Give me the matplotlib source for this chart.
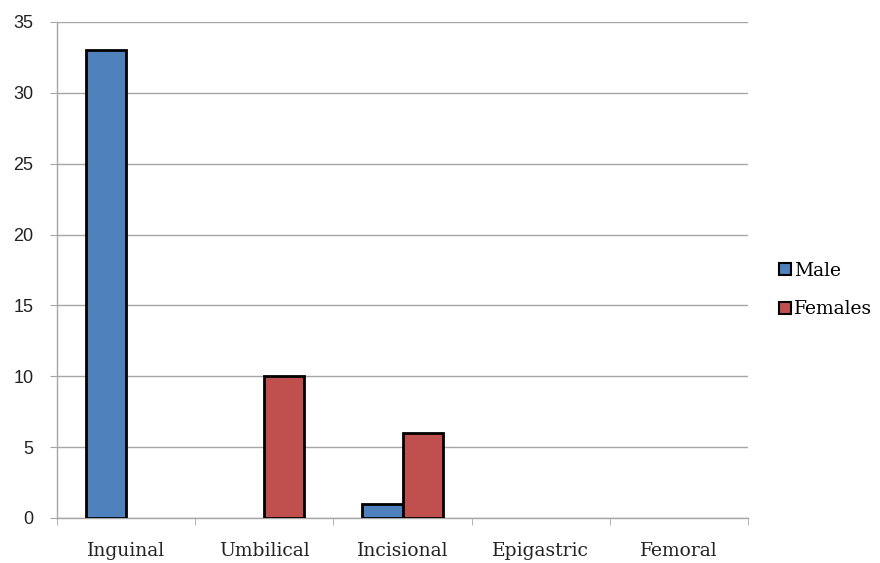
import matplotlib
matplotlib.use("Agg")
import matplotlib.pyplot as plt
import numpy as np
from matplotlib.patches import Patch

categories = ["Inguinal", "Umbilical", "Incisional", "Epigastric", "Femoral"]
male = [33, 0, 1, 0, 0]
females = [0, 10, 6, 0, 0]
y_ticks = [0, 5, 10, 15, 20, 25, 30, 35]

blue = "#4f81bd"
red = "#c0504d"
grid_col = "#a6a6a6"

fig = plt.figure(figsize=(8.8, 5.63), dpi=100)
ax = fig.add_axes([57/880, 1 - 518/563, (748 - 57)/880, (518 - 22)/563])

x = np.arange(len(categories))
w = 0.29
for xi, v in zip(x, male):
    if v > 0:
        ax.bar(xi - w/2, v, width=w, color=blue, edgecolor="black", linewidth=2, zorder=3)
for xi, v in zip(x, females):
    if v > 0:
        ax.bar(xi + w/2, v, width=w, color=red, edgecolor="black", linewidth=2, zorder=3)

ax.set_xlim(-0.5, len(categories) - 0.5)
ax.set_ylim(0, 35)
ax.set_yticks(y_ticks)
ax.set_yticklabels([str(t) for t in y_ticks], fontsize=13, family="Liberation Sans", color="#222222")
ax.yaxis.grid(True, color=grid_col, linewidth=1, zorder=0)
ax.tick_params(axis="y", length=5, color=grid_col, pad=12)

# category labels centered, ticks at category boundaries
ax.set_xticks(x)
ax.set_xticklabels(categories, fontsize=13.5, family="DejaVu Serif", color="#222222")
ax.tick_params(axis="x", length=0, pad=17)
ax.set_xticks(np.arange(-0.5, len(categories), 1.0), minor=True)
ax.tick_params(axis="x", which="minor", length=5, color=grid_col, direction="out")

for s in ["top", "right"]:
    ax.spines[s].set_visible(False)
for s in ["left", "bottom"]:
    ax.spines[s].set_color(grid_col)
    ax.spines[s].set_linewidth(1)

handles = [Patch(facecolor=blue, edgecolor="black", linewidth=1.5, label="Male"),
           Patch(facecolor=red, edgecolor="black", linewidth=1.5, label="Females")]
fig.legend(handles=handles, loc="center left", bbox_to_anchor=(779/880, 1 - 290/563),
           frameon=False, prop={"family": "DejaVu Serif", "size": 13.5},
           handlelength=0.62, handleheight=0.62, handletextpad=0.2, labelspacing=1.1,
           borderaxespad=0, borderpad=0)

fig.savefig("out.png", dpi=100)
